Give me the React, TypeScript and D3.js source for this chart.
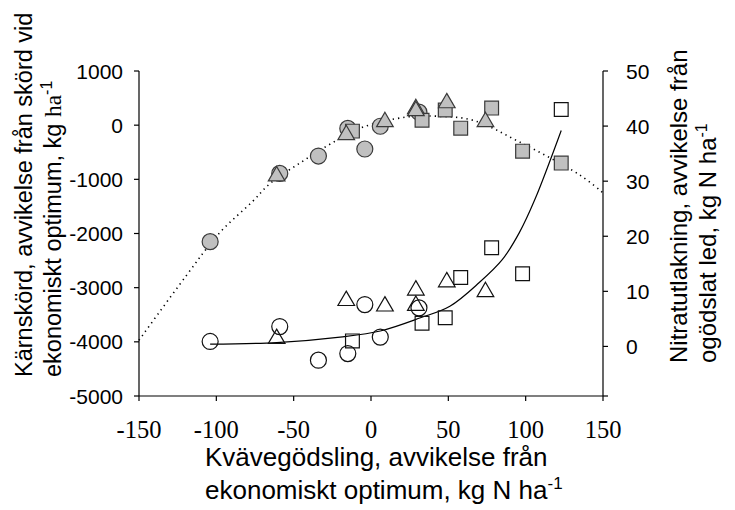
import * as d3 from "d3";

// shared nitrogen deviations (kg N/ha) per symbol group
const circleX = [-104, -59, -34, -15, -4, 6, 31];
const triangleX = [-61, -16, 9, 29, 29, 49, 74];
const squareX = [-12, 33, 48, 58, 78, 98, 123];

// yield deviation, left axis (grey symbols)
const yieldCircle = [-2150, -890, -570, -60, -440, -20, 240];
const yieldTriangle = [-940, -180, 60, 300, 265, 410, 60];
const yieldSquare = [-110, 90, 280, -55, 315, -480, -700];

// nitrate leaching, right axis (open symbols)
const leachCircle = [0.9, 3.6, -2.5, -1.3, 7.6, 1.7, 7.0];
const leachTriangle = [1.4, 8.3, 7.3, 10.2, 7.4, 11.7, 9.9];
const leachSquare = [1.0, 4.2, 5.2, 12.5, 17.9, 13.2, 43.0];

// fitted curves
const yieldFitX = [-150, -120, -98, -77, -65, -46, -27, -7, 23, 43, 66, 96, 135, 150];
const yieldFitY = [-3970, -2800, -1990, -1420, -1070, -700, -360, -55, 150, 165, 90, -310, -920, -1250];
const leachFitX = [-104, -61, -20, 6, 32, 51, 70, 85, 96, 106, 123];
const leachFitY = [0.4, 0.7, 1.7, 2.8, 5.2, 7.3, 11.6, 15.8, 20.7, 26.7, 39.2];

const xTicks = [-150, -100, -50, 0, 50, 100, 150];
const leftTicks = [1000, 0, -1000, -2000, -3000, -4000, -5000];
const rightTicks = [0, 10, 20, 30, 40, 50];

const SANS = "Liberation Sans, Arial, sans-serif";
const SERIF = "Liberation Serif, Times New Roman, serif";

const x = d3.scaleLinear().domain([-150, 150]).range([139, 603]);
const yL = d3.scaleLinear().domain([-5000, 1000]).range([396, 71]);
const yR = d3.scaleLinear().domain([-9, 50]).range([396, 71]);

const circ = d3.symbol(d3.symbolCircle, 201)();
const tri = d3.symbol(d3.symbolTriangle, 120)();
const sq = d3.symbol(d3.symbolSquare, 190)();

export default function App() {
  const dotted = d3
    .line<number>()
    .x((d) => x(d))
    .y((_, i) => yL(yieldFitY[i]))
    .curve(d3.curveCatmullRom)(yieldFitX);
  const solid = d3
    .line<number>()
    .x((d) => x(d))
    .y((_, i) => yR(leachFitY[i]))
    .curve(d3.curveCatmullRom)(leachFitX);

  const marks = (
    xs: number[],
    vs: number[],
    ys: d3.ScaleLinear<number, number>,
    path: string | null,
    grey: boolean
  ) =>
    xs.map((d, i) => (
      <path
        key={i}
        d={path || ""}
        transform={`translate(${x(d)},${ys(vs[i])})`}
        fill={grey ? "#c0c0c0" : "none"}
        stroke={grey ? "#3a3a3a" : "#111"}
        strokeWidth={1.2}
      />
    ));

  return (
    <svg
      width={735}
      height={510}
      style={{ position: "absolute", left: 0, top: 0, background: "#fff" }}
    >
      {/* axes */}
      <g stroke="#000" strokeWidth={1.2} fill="none">
        <line x1={139} x2={139} y1={71} y2={396} />
        <line x1={603} x2={603} y1={71} y2={396} />
        <line x1={139} x2={603} y1={396} y2={396} />
        {leftTicks.map((t) => (
          <line key={t} x1={134} x2={139} y1={yL(t)} y2={yL(t)} />
        ))}
        {rightTicks.map((t) => (
          <line key={t} x1={603} x2={608} y1={yR(t)} y2={yR(t)} />
        ))}
        <line x1={603} x2={608} y1={396} y2={396} />
        {xTicks.map((t) => (
          <line key={t} x1={x(t)} x2={x(t)} y1={396} y2={401} />
        ))}
      </g>

      {/* tick labels */}
      <g fontFamily={SANS} fontSize={21} fill="#000">
        {leftTicks.map((t) => (
          <text key={t} x={123} y={yL(t)} dy="0.36em" textAnchor="end">
            {t}
          </text>
        ))}
        {rightTicks.map((t) => (
          <text key={t} x={626} y={yR(t)} dy="0.36em">
            {t}
          </text>
        ))}
      </g>
      <g fontFamily={SERIF} fontSize={24.5} fill="#000">
        {xTicks.map((t) => (
          <text key={t} x={x(t)} y={438} textAnchor="middle">
            {t}
          </text>
        ))}
      </g>

      {/* curves */}
      <path d={dotted || ""} fill="none" stroke="#000" strokeWidth={1.6} strokeDasharray="1.3,4" />
      <path d={solid || ""} fill="none" stroke="#000" strokeWidth={1.2} />

      {/* grey: yield */}
      {marks(circleX, yieldCircle, yL, circ, true)}
      {marks(squareX, yieldSquare, yL, sq, true)}
      {marks(triangleX, yieldTriangle, yL, tri, true)}

      {/* open: leaching */}
      {marks(circleX, leachCircle, yR, circ, false)}
      {marks(squareX, leachSquare, yR, sq, false)}
      {marks(triangleX, leachTriangle, yR, tri, false)}

      {/* axis titles */}
      <g fontFamily={SANS} fontSize={23.5} fill="#000">
        <text transform="translate(32,377) rotate(-90)">
          Kärnskörd, avvikelse från skörd vid
        </text>
        <text transform="translate(61,377) rotate(-90)">
          ekonomiskt optimum, kg{" "}
          <tspan fontFamily={SERIF}>ha</tspan>
          <tspan fontSize={16} dy={-9}>-1</tspan>
        </text>
      </g>
      <g fontFamily={SANS} fontSize={24} fill="#000">
        <text transform="translate(687,363) rotate(-90)">
          Nitratutlakning, avvikelse från
        </text>
        <text transform="translate(716,363) rotate(-90)">
          ogödslat led, kg N ha
          <tspan fontSize={16} dy={-9}>-1</tspan>
        </text>
      </g>
      <g fontFamily={SANS} fontSize={26} fill="#000">
        <text x={205} y={466}>
          Kvävegödsling, avvikelse från
        </text>
        <text x={205} y={499}>
          ekonomiskt optimum, kg N ha
          <tspan fontSize={17} dy={-10}>-1</tspan>
        </text>
      </g>
    </svg>
  );
}
